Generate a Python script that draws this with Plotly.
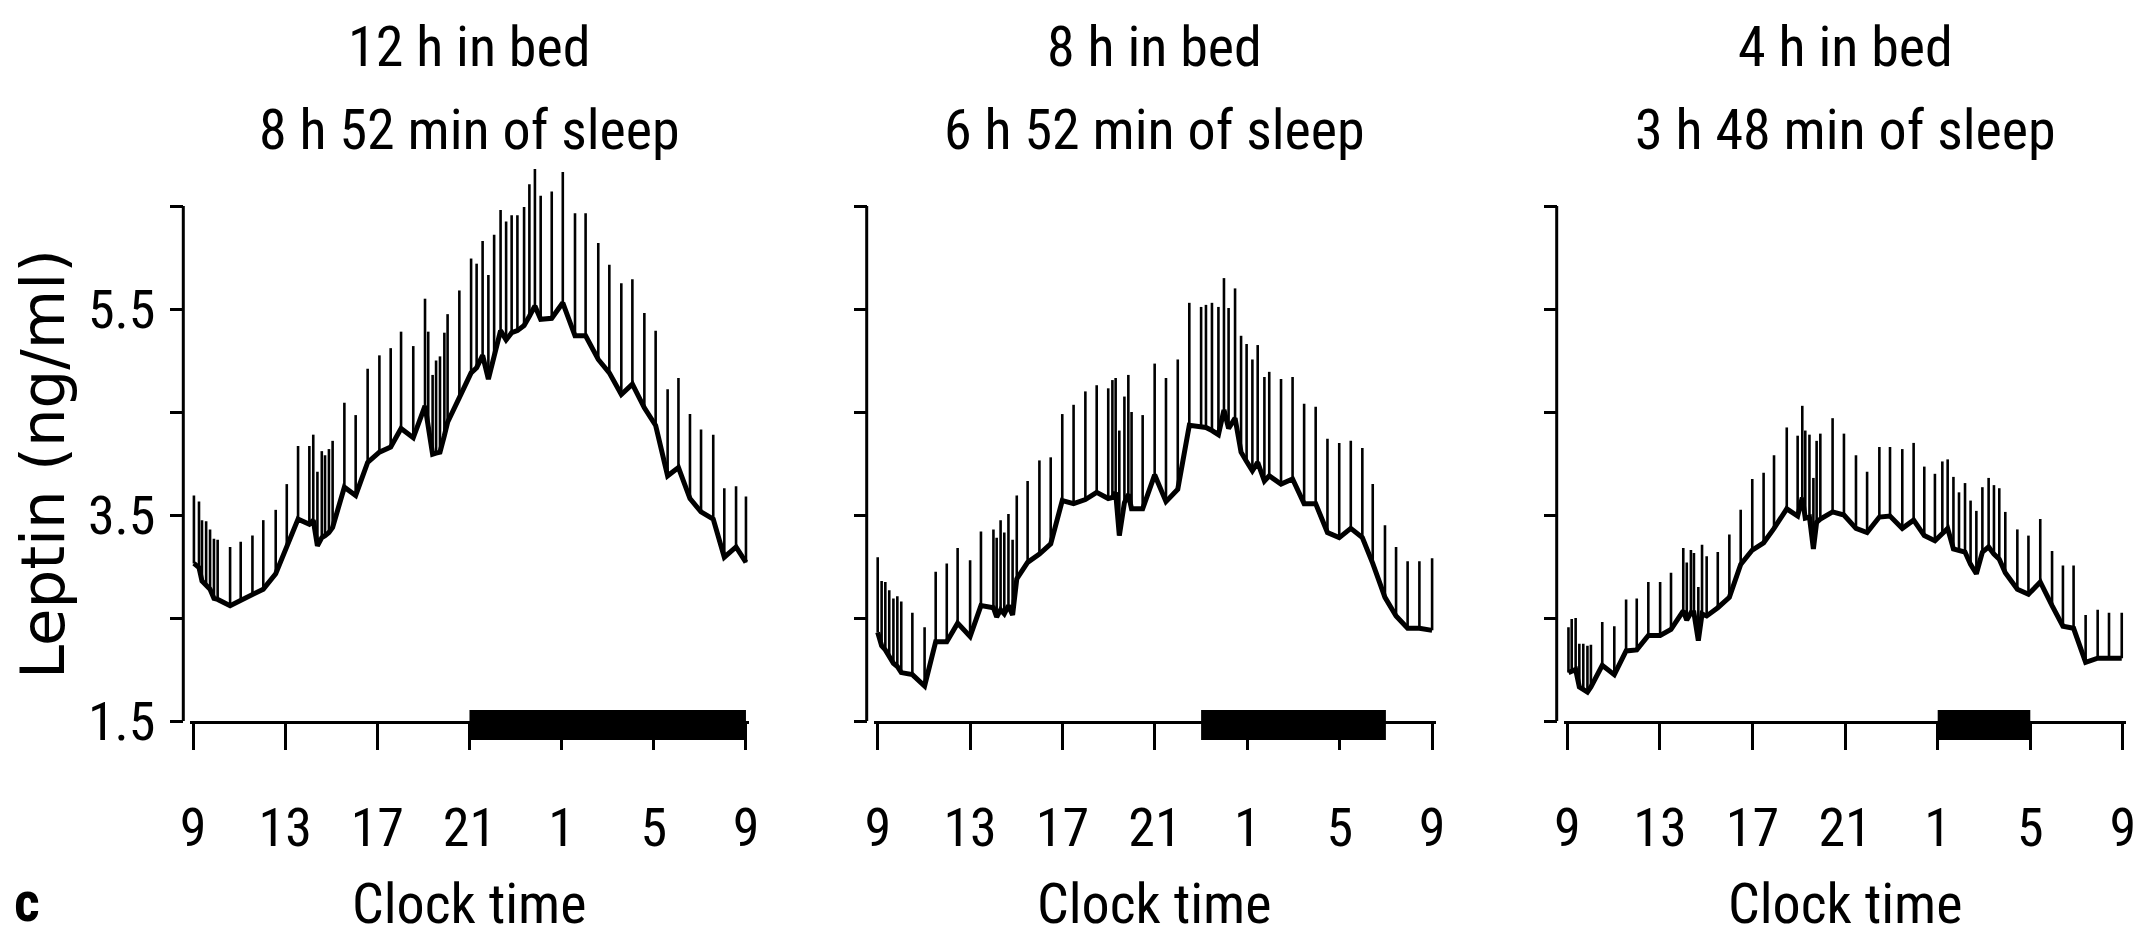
import plotly.graph_objects as go

# ---------------- data (hours after 09:00, leptin ng/ml, upward SEM) ----------------
tick_hours = [0, 4, 8, 12, 16, 20, 24]
tick_labels = ["9", "13", "17", "21", "1", "5", "9"]
y_tickvals = [1.5, 2.5, 3.5, 4.5, 5.5, 6.5]
y_ticktext = ["1.5", "", "3.5", "", "5.5", ""]

titles_line1 = ["12 h in bed", "8 h in bed", "4 h in bed"]
titles_line2 = ["8 h 52 min of sleep", "6 h 52 min of sleep", "3 h 48 min of sleep"]

sleep_start = [12, 14, 16]
sleep_end = [24, 22, 20]

t1 = [0.04, 0.26, 0.39, 0.57, 0.74, 0.91, 1.07, 1.61, 2.07, 2.58, 3.05, 3.59, 4.07, 4.56, 5.05,
      5.22, 5.40, 5.59, 5.73, 5.90, 6.06, 6.57, 7.06, 7.58, 8.09, 8.58, 9.03, 9.56, 10.07, 10.21,
      10.40, 10.55, 10.72, 10.91, 11.05, 11.56, 12.07, 12.31, 12.57, 12.82, 13.07, 13.35, 13.59,
      13.83, 14.08, 14.37, 14.60, 14.84, 15.09, 15.57, 16.05, 16.58, 17.04, 17.59, 18.07, 18.59,
      19.07, 19.59, 20.08, 20.60, 21.07, 21.57, 22.05, 22.58, 23.06, 23.57, 24.00]
v1 = [3.03, 2.99, 2.86, 2.82, 2.78, 2.69, 2.68, 2.62, 2.67, 2.72, 2.78, 2.93, 3.19, 3.46, 3.41,
      3.45, 3.20, 3.28, 3.30, 3.33, 3.38, 3.77, 3.69, 4.01, 4.11, 4.16, 4.34, 4.25, 4.56, 4.37,
      4.09, 4.10, 4.11, 4.27, 4.40, 4.64, 4.88, 4.93, 5.05, 4.82, 5.05, 5.29, 5.20,
      5.27, 5.29, 5.34, 5.43, 5.53, 5.40, 5.41, 5.56, 5.24, 5.24, 5.01, 4.88, 4.67,
      4.77, 4.54, 4.37, 3.88, 3.96, 3.66, 3.53, 3.46, 3.09, 3.19, 3.04]
e1 = [0.66, 0.64, 0.59, 0.62, 0.58, 0.58, 0.58, 0.57, 0.57, 0.58, 0.67, 0.62, 0.61, 0.71, 0.76,
      0.83, 0.72, 0.84, 0.78, 0.81, 0.84, 0.82, 0.78, 0.91, 0.94, 0.96, 0.94, 0.89, 1.04, 0.91,
      0.77, 0.90, 0.93, 1.00, 1.05, 1.04, 1.11, 1.01, 1.11, 1.01, 1.17, 1.17, 1.15,
      1.14, 1.12, 1.15, 1.28, 1.33, 1.20, 1.23, 1.27, 1.19, 1.19, 1.13, 1.05, 1.08,
      1.02, 0.92, 0.92, 0.84, 0.87, 0.82, 0.80, 0.82, 0.67, 0.59, 0.64]

t2 = [0.00, 0.17, 0.33, 0.50, 0.68, 0.85, 1.02, 1.50, 2.03, 2.51, 2.99, 3.46, 4.00, 4.47, 5.01,
      5.15, 5.32, 5.48, 5.66, 5.84, 6.02, 6.49, 7.00, 7.49, 7.99, 8.48, 8.99, 9.48, 9.98, 10.16,
      10.30, 10.46, 10.68, 10.85, 10.99, 11.47, 11.99, 12.48, 12.99, 13.49, 14.00, 14.21, 14.47,
      14.75, 14.99, 15.19, 15.47, 15.73, 15.97, 16.22, 16.45, 16.74, 16.95, 17.46, 17.96, 18.46,
      18.96, 19.47, 19.98, 20.48, 20.98, 21.43, 21.96, 22.44, 22.94, 23.45, 24.00]
v2 = [2.36, 2.23, 2.19, 2.12, 2.06, 2.03, 1.97, 1.95, 1.84, 2.27, 2.27, 2.45, 2.32, 2.62, 2.60,
      2.51, 2.58, 2.54, 2.62, 2.53, 2.88, 3.04, 3.12, 3.22, 3.64, 3.61, 3.65, 3.72, 3.66, 3.67,
      3.72, 3.30, 3.62, 3.70, 3.56, 3.56, 3.89, 3.63, 3.75, 4.37, 4.36, 4.35, 4.32,
      4.28, 4.52, 4.34, 4.44, 4.11, 4.02, 3.93, 4.01, 3.83, 3.88, 3.80, 3.85, 3.61,
      3.61, 3.33, 3.28, 3.37, 3.28, 3.03, 2.70, 2.52, 2.40, 2.40, 2.38]
e2 = [0.73, 0.63, 0.66, 0.65, 0.63, 0.68, 0.69, 0.60, 0.57, 0.68, 0.76, 0.73, 0.74, 0.72, 0.76,
      0.77, 0.87, 0.79, 0.89, 0.73, 0.81, 0.79, 0.91, 0.84, 0.84, 0.96, 1.05, 1.04, 1.07, 1.14,
      1.11, 1.02, 1.03, 1.16, 0.94, 0.91, 1.08, 1.20, 1.26, 1.19, 1.16, 1.19, 1.24,
      1.24, 1.28, 1.17, 1.26, 1.13, 1.14, 1.08, 1.14, 1.01, 1.01, 1.02, 0.99, 0.97,
      0.94, 0.91, 0.92, 0.85, 0.87, 0.77, 0.70, 0.67, 0.65, 0.65, 0.70]

t3 = [0.05, 0.19, 0.36, 0.52, 0.69, 0.87, 1.02, 1.51, 2.03, 2.54, 3.00, 3.50, 4.01, 4.48, 5.01,
      5.16, 5.34, 5.47, 5.66, 5.82, 6.02, 6.50, 7.00, 7.49, 7.99, 8.48, 8.93, 9.48, 9.95, 10.15,
      10.28, 10.46, 10.63, 10.77, 10.93, 11.46, 11.95, 12.47, 12.95, 13.48, 13.94, 14.47, 14.96,
      15.42, 15.88, 16.20, 16.43, 16.68, 16.92, 17.18, 17.42, 17.67, 17.93, 18.20, 18.43, 18.66,
      18.92, 19.44, 19.92, 20.43, 20.94, 21.41, 21.87, 22.39, 22.91, 23.40, 23.95]
v3 = [1.97, 1.99, 2.00, 1.83, 1.81, 1.78, 1.83, 2.04, 1.95, 2.18, 2.19, 2.33, 2.33, 2.39, 2.57,
      2.48, 2.55, 2.55, 2.28, 2.54, 2.52, 2.60, 2.70, 3.02, 3.16, 3.23, 3.37, 3.56, 3.49, 3.67,
      3.47, 3.48, 3.17, 3.43, 3.46, 3.53, 3.50, 3.37, 3.33, 3.48, 3.49, 3.37, 3.45,
      3.30, 3.25, 3.32, 3.37, 3.17, 3.15, 3.14, 3.02, 2.93, 3.14, 3.19, 3.12, 3.07,
      2.94, 2.78, 2.73, 2.85, 2.62, 2.42, 2.40, 2.07, 2.11, 2.11, 2.11]
e3 = [0.44, 0.50, 0.50, 0.42, 0.44, 0.45, 0.41, 0.42, 0.47, 0.50, 0.50, 0.52, 0.52, 0.55, 0.61,
      0.56, 0.61, 0.58, 0.52, 0.67, 0.58, 0.54, 0.61, 0.53, 0.69, 0.68, 0.71, 0.79, 0.78, 0.89,
      0.85, 0.80, 0.69, 0.79, 0.83, 0.91, 0.79, 0.71, 0.59, 0.68, 0.67, 0.77, 0.75,
      0.67, 0.65, 0.70, 0.67, 0.70, 0.57, 0.67, 0.62, 0.61, 0.63, 0.67, 0.67, 0.69,
      0.59, 0.58, 0.57, 0.61, 0.53, 0.59, 0.61, 0.46, 0.47, 0.44, 0.44]

series = [(t1, v1, e1), (t2, v2, e2), (t3, v3, e3)]

# ---------------- layout geometry (pixels) ----------------
W, H = 2152, 945
x_origin_px = [193.0, 877.7, 1567.3]     # pixel of 09:00 on each panel
px_per_hour = [23.04, 23.1, 23.15]
yaxis_px = [183.3, 866.7, 1556.7]
Y_BOTTOM_PX = 721.0
PX_PER_UNIT = 103.0
Y_RANGE = [1.5, 7.0]
X_RANGE = [-0.15, 24.15]

NARROW = "Liberation Sans Narrow, Arial Narrow, Roboto Condensed, Open Sans, sans-serif"
TICK_FONT = dict(family=NARROW, size=54, color="black")
TEXT_FONT = dict(family=NARROW, size=56, color="black")


def px2fx(p):
    return p / W


def px2fy(p):
    return 1 - p / H


y_top_px = Y_BOTTOM_PX - (Y_RANGE[1] - Y_RANGE[0]) * PX_PER_UNIT
y_domain = [px2fy(Y_BOTTOM_PX), px2fy(y_top_px)]

fig = go.Figure()
layout = dict(
    template="none",
    width=W, height=H,
    margin=dict(l=0, r=0, t=0, b=0, pad=0, autoexpand=False),
    paper_bgcolor="white", plot_bgcolor="white",
    showlegend=False,
)
shapes = []
annotations = []

for i, (t, v, e) in enumerate(series):
    sfx = "" if i == 0 else str(i + 1)
    xa, ya = "x" + sfx, "y" + sfx
    fig.add_trace(go.Scatter(
        x=t, y=v, mode="lines", xaxis=xa, yaxis=ya,
        line=dict(color="black", width=5),
        error_y=dict(type="data", symmetric=False, array=e, arrayminus=[0] * len(e),
                     width=0, thickness=2.6, color="black"),
        hoverinfo="x+y",
    ))
    x0 = x_origin_px[i] + X_RANGE[0] * px_per_hour[i]
    x1 = x_origin_px[i] + X_RANGE[1] * px_per_hour[i]
    layout["xaxis" + sfx] = dict(
        domain=[px2fx(x0), px2fx(x1)], range=X_RANGE, anchor=ya,
        showline=True, linecolor="black", linewidth=3,
        ticks="outside", ticklen=26, tickwidth=3, tickcolor="black",
        tickvals=tick_hours, ticktext=tick_labels, tickfont=TICK_FONT,
        ticklabelstandoff=31, automargin=False,
        showgrid=False, zeroline=False, fixedrange=True,
    )
    layout["yaxis" + sfx] = dict(
        domain=y_domain, range=Y_RANGE, anchor="free", position=px2fx(yaxis_px[i]),
        showline=False, ticks="outside", ticklen=13, tickwidth=3, tickcolor="black",
        tickvals=y_tickvals, ticktext=y_ticktext, tickfont=TICK_FONT,
        showticklabels=(i == 0), ticklabelstandoff=4, automargin=False,
        showgrid=False, zeroline=False, fixedrange=True,
    )
    # y-axis spine (from 1.5 to 6.5 only)
    shapes.append(dict(type="line", xref="paper", yref=ya,
                       x0=px2fx(yaxis_px[i]), x1=px2fx(yaxis_px[i]),
                       y0=y_tickvals[0], y1=y_tickvals[-1],
                       line=dict(color="black", width=3)))
    # time-in-bed bar
    shapes.append(dict(type="rect", xref=xa, yref="paper",
                       x0=sleep_start[i], x1=sleep_end[i],
                       y0=px2fy(740), y1=px2fy(710),
                       fillcolor="black", line=dict(width=0), layer="above"))
    cx = px2fx(x_origin_px[i] + 12 * px_per_hour[i])
    annotations.append(dict(text=titles_line1[i], xref="paper", yref="paper",
                            x=cx, y=px2fy(47), xanchor="center", yanchor="middle",
                            showarrow=False, font=TEXT_FONT))
    annotations.append(dict(text=titles_line2[i], xref="paper", yref="paper",
                            x=cx, y=px2fy(130), xanchor="center", yanchor="middle",
                            showarrow=False, font=TEXT_FONT))
    annotations.append(dict(text="Clock time", xref="paper", yref="paper",
                            x=cx, y=px2fy(904), xanchor="center", yanchor="middle",
                            showarrow=False, font=TEXT_FONT))

annotations.append(dict(text="Leptin (ng/ml)", xref="paper", yref="paper",
                        x=px2fx(42), y=px2fy(464), xanchor="center", yanchor="middle",
                        textangle=-90, showarrow=False,
                        font=dict(family="DejaVu Sans, Verdana, sans-serif", size=61, color="black")))
annotations.append(dict(text="<b>c</b>", xref="paper", yref="paper",
                        x=px2fx(27), y=px2fy(902), xanchor="center", yanchor="middle",
                        showarrow=False, font=dict(family=NARROW, size=56, color="black")))

layout["shapes"] = shapes
layout["annotations"] = annotations
fig.update_layout(**layout)
fig.write_html("out.html")
